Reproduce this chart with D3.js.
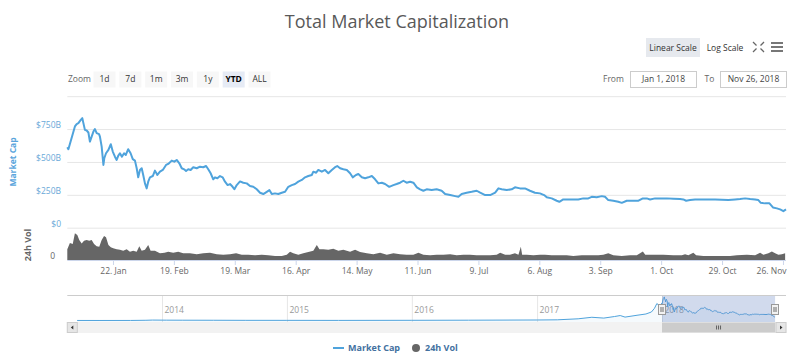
<!DOCTYPE html>
<html><head><meta charset="utf-8">
<script src="https://cdn.jsdelivr.net/npm/d3@7"></script>
<style>html,body{margin:0;padding:0;background:#fff;} svg{display:block;font-family:"Open Sans",sans-serif;}</style>
</head><body><svg id="chart" width="794" height="357"></svg>
<script>
// ---- data (market cap in billions USD, day offset from Jan 1, 2018) ----
const capDays = [0,0.5,3.5,4.3,5.1,6.2,6.9,7.4,8.1,8.9,9.7,10.4,11.2,12.0,12.7,13.5,14.6,15.0,15.8,16.6,17.0,17.8,18.9,20.0,20.9,21.9,22.7,23.4,24.2,25.1,26.1,26.9,28.0,29.1,30.1,31.1,31.9,32.6,33.4,34.2,34.9,35.7,36.5,37.2,38.0,39.3,40.3,41.4,42.6,43.9,45.4,46.4,48.0,49.2,50.3,51.5,52.6,53.7,54.6,55.6,56.7,57.9,59.5,61.0,62.5,63.8,64.8,65.9,67.1,67.9,69.0,70.2,71.4,72.5,73.7,74.8,76.0,76.8,77.9,79.4,80.9,82.5,84.0,85.5,87.1,88.6,90.1,91.7,92.9,94.0,95.5,97.0,98.6,100.1,101.6,103.2,104.7,106.2,107.8,109.3,110.8,112.4,113.1,114.4,115.4,117.0,118.5,120.0,121.6,123.1,124.1,125.4,126.9,128.5,130.0,131.2,132.7,133.8,135.4,136.9,138.4,140.0,141.5,143.0,144.6,146.1,148.0,149.9,151.4,153.0,154.5,156.0,157.6,159.1,160.7,162.2,163.7,165.2,167.5,169.8,172.1,173.7,176.0,178.3,179.8,181.3,183.6,185.9,188.2,189.8,192.1,194.4,196.7,198.2,199.7,202.0,204.3,205.8,208.1,210.4,212.7,215.0,217.3,219.2,220.4,222.7,225.0,226.2,228.0,230.3,232.7,234.9,237.2,239.5,241.1,243.4,245.7,247.2,248.7,251.0,253.3,254.9,257.2,260.2,262.6,264.6,266.4,267.9,270.2,272.5,275.6,278.6,281.7,283.2,284.5,286.3,288.6,291.7,294.7,297.8,300.9,303.9,307.0,309.3,311.6,313.9,316.2,317.7,318.8,320.8,322.8,324.4,326.2,327.7,329.2,330.4];
const capValues = [612,597,770,788,795,820,833,795,744,739,724,655,693,731,750,719,711,693,617,477,528,566,592,635,579,540,515,546,566,540,566,553,597,566,521,510,452,383,439,452,401,337,299,350,383,393,434,401,426,439,477,485,510,502,515,490,452,444,431,444,439,460,452,464,460,469,444,414,368,383,376,393,383,350,324,332,311,292,324,352,342,337,317,311,292,266,256,273,286,256,261,256,266,273,311,324,332,350,363,383,393,401,426,418,439,426,439,414,439,460,469,452,444,439,414,383,401,408,383,376,383,393,368,337,342,332,311,324,332,342,357,342,350,342,307,292,281,292,286,292,281,256,248,240,235,256,266,273,281,266,248,248,266,299,292,286,292,307,299,299,281,266,261,248,231,223,205,197,215,215,215,215,223,223,235,231,240,235,210,205,197,189,205,205,205,223,223,215,223,223,223,220,218,215,205,210,215,215,215,215,212,210,215,218,223,218,215,210,189,185,185,154,147,139,126,139];
// 24h volume in billions USD
const volDays = [0,1.2,2.5,3.5,4.6,5.5,6.6,7.7,8.9,10.1,11.2,12.3,13.5,14.7,15.8,16.9,17.8,18.9,20.0,21.1,22.7,24.2,25.7,27.3,28.8,30.3,31.9,33.1,34.2,35.7,37.2,38.3,40.3,42.6,44.7,46.4,48.7,51.0,53.3,56.4,59.5,62.5,65.6,68.7,71.7,74.8,77.6,80.2,83.2,86.3,89.4,92.4,95.5,98.6,100.9,102.4,103.9,106.2,108.5,110.8,113.1,114.7,115.9,117.7,120.0,122.3,124.6,126.9,130.0,132.3,134.6,137.7,140.7,143.8,146.9,149.9,153.0,156.0,159.1,161.4,163.7,166.8,169.8,172.9,176.0,179.0,182.1,185.1,188.2,191.3,194.4,197.4,199.0,201.3,203.5,205.8,207.4,208.5,209.1,211.2,214.3,217.3,219.6,222.7,226.5,229.6,232.6,236.5,240.3,244.1,246.4,248.7,251.0,254.9,258.7,261.8,263.3,264.6,265.7,269.4,274.0,278.6,282.5,284.0,285.5,287.8,289.1,292.4,297.0,300.9,304.7,307.8,312.4,316.2,318.5,320.0,322.3,323.9,325.4,326.9,328.5,330.0];
const volValues = [20,32,30,50,47,37.5,31,36,37.5,36,37.5,30,26,25,37.5,45,42.5,28,24,22,20,19,17.5,20,15.6,17.5,15.6,26,17.5,19,28,17.5,17.5,12.5,13.5,15.6,13.5,15.6,12.5,12.5,11,12.5,13.5,11,10,11,12.5,10,10,9,10,9,7.5,7.5,10,15.6,12.5,10,12.5,15,17.5,28,20,20,19,21,17.5,19,15.6,19,15,12.5,11,13.5,10,12.5,11,10,10,13.5,10,9,10,10,11,9,10,10,9,9,9,10,13.5,10,10,12.5,10,25,10,10,9,10,10,9,9,9,7.5,9,9,9,10,12.5,9,7.5,9,9,12.5,16,10,10,10,9,9,11,9,13.5,9,7.5,7.5,7.5,7.5,9,10,9,13.5,10,12.5,16,12.5,10,11,12.5];
// navigator history before 2018 (billions USD)
const histDates = ["2013-04-28","2013-07-01","2013-10-01","2013-11-15","2013-12-04","2014-01-15","2014-03-01","2014-06-01","2014-09-01","2015-01-01","2015-06-01","2016-01-01","2016-06-15","2017-01-01","2017-03-01","2017-05-01","2017-06-10","2017-07-15","2017-08-15","2017-09-01","2017-09-15","2017-10-20","2017-11-15","2017-12-01","2017-12-10","2017-12-17","2017-12-24","2018-01-01"];
const histValues = [1.6,1.1,1.9,8,15,12,10,8.5,6,5.5,3.5,7,11,18,24,60,114,85,140,175,120,185,230,300,430,600,520,612];
const capTicks = [0,250,500,750,1000];
const capTickLabels = ["$0","$250B","$500B","$750B",""];
const dateTicks = ["2018-01-22","2018-02-19","2018-03-19","2018-04-16","2018-05-14","2018-06-11","2018-07-09","2018-08-06","2018-09-03","2018-10-01","2018-10-29","2018-11-26"];
const navYears = ["2014","2015","2016","2017","2018"];
const zoomButtons = ["1d","7d","1m","3m","1y","YTD","ALL"];
const selectedZoom = "YTD";
const fromLabel = "Jan 1, 2018", toLabel = "Nov 26, 2018";

// ---- setup ----
const svg = d3.select("#chart");
const BLUE = "#4fa3dc";
const start = Date.UTC(2018,0,1);
const dayToDate = d => new Date(start + d*864e5);
const parse = d3.utcParse("%Y-%m-%d");
const L = 67.3, R = 786;
const x = d3.scaleUtc().domain([dayToDate(0), dayToDate(330.4)]).range([L, R]);
const capY = d3.scaleLinear().domain([0,1000]).range([227.7, 96.2]);
const volY = d3.scaleLinear().domain([0,60]).range([260, 228]);

// title
svg.append("text").attr("x",397).attr("y",28).attr("text-anchor","middle")
  .attr("font-size",18).attr("fill","#595959").text("Total Market Capitalization");

// scale buttons (top-right)
svg.append("rect").attr("x",646).attr("y",38).attr("width",54).attr("height",19).attr("fill","#e6e9ee");
svg.append("text").attr("x",673).attr("y",50.5).attr("text-anchor","middle").attr("font-size",8.5).attr("fill","#333").text("Linear Scale");
svg.append("text").attr("x",725).attr("y",50.5).attr("text-anchor","middle").attr("font-size",8.5).attr("fill","#333").text("Log Scale");
// expand icon
const ic = svg.append("g").attr("stroke","#666").attr("stroke-width",1.3).attr("fill","none");
[[753,42,756.5,45.5],[764,42,760.5,45.5],[753,52,756.5,48.5],[764,52,760.5,48.5]].forEach(a=>{
  ic.append("line").attr("x1",a[0]).attr("y1",a[1]).attr("x2",a[2]).attr("y2",a[3]);
});
// menu icon
[43,47,51].forEach(yy=>svg.append("line").attr("x1",771).attr("x2",783).attr("y1",yy).attr("y2",yy).attr("stroke","#555").attr("stroke-width",1.6));

// zoom buttons
svg.append("text").attr("x",68).attr("y",82).attr("font-size",8.5).attr("fill","#666").text("Zoom");
const bx = d3.scalePoint().domain(zoomButtons).range([104.5,259.5]);
const zb = svg.append("g").selectAll("g").data(zoomButtons).join("g");
zb.append("rect").attr("x",d=>bx(d)-11).attr("y",71.5).attr("width",22).attr("height",16)
  .attr("fill",d=>d===selectedZoom?"#e6ebf5":"#f7f7f7");
zb.append("text").attr("x",d=>bx(d)).attr("y",82.3).attr("text-anchor","middle").attr("font-size",8.5)
  .attr("font-weight",d=>d===selectedZoom?"bold":"normal").attr("fill",d=>d===selectedZoom?"#000":"#333").text(d=>d);

// date range inputs
svg.append("text").attr("x",603).attr("y",82).attr("font-size",8.5).attr("fill","#666").text("From");
svg.append("rect").attr("x",630.5).attr("y",71.5).attr("width",66).attr("height",16).attr("fill","#fff").attr("stroke","#ccc");
svg.append("text").attr("x",663.5).attr("y",82.3).attr("text-anchor","middle").attr("font-size",8.5).attr("fill","#444").text(fromLabel);
svg.append("text").attr("x",704.5).attr("y",82).attr("font-size",8.5).attr("fill","#666").text("To");
svg.append("rect").attr("x",720.5).attr("y",71.5).attr("width",66).attr("height",16).attr("fill","#fff").attr("stroke","#ccc");
svg.append("text").attr("x",753.5).attr("y",82.3).attr("text-anchor","middle").attr("font-size",8.5).attr("fill","#444").text(toLabel);

// cap gridlines + labels
const capAxis = svg.append("g").attr("transform",`translate(${L},0)`)
  .call(d3.axisRight(capY).tickValues(capTicks).tickSize(R-L).tickFormat(""));
capAxis.select(".domain").remove();
capAxis.selectAll(".tick line").attr("stroke","#e6e6e6");
const capLab = svg.append("g").attr("transform","translate(61,0)")
  .call(d3.axisLeft(capY).tickValues(capTicks).tickSize(0).tickPadding(0).tickFormat((d,i)=>capTickLabels[i]));
capLab.select(".domain").remove();
capLab.selectAll(".tick text").attr("dy","-0.15em").attr("font-size",8.5).attr("fill","#6aa9d8").attr("font-family","Open Sans");
svg.append("text").attr("transform","translate(16,162) rotate(-90)").attr("text-anchor","middle")
  .attr("font-size",8.5).attr("font-weight","bold").attr("fill","#5aa5dc").text("Market Cap");

// volume
const vArea = d3.area().x((d,i)=>x(dayToDate(volDays[i]))).y0(volY(0)).y1((d)=>volY(d));
svg.append("path").datum(volValues).attr("d",vArea).attr("fill","#666666");
svg.append("text").attr("transform","translate(31,245) rotate(-90)").attr("text-anchor","middle")
  .attr("font-size",9).attr("font-weight","bold").attr("fill","#666").text("24h Vol");
const volLab = svg.append("g").attr("transform","translate(55,0)")
  .call(d3.axisLeft(volY).tickValues([0]).tickSize(0).tickPadding(0).tickFormat(d3.format("d")));
volLab.select(".domain").remove();
volLab.selectAll(".tick text").attr("dy","-0.2em").attr("font-size",8.5).attr("fill","#666").attr("font-family","Open Sans");

// market cap line
const cLine = d3.line().x((d,i)=>x(dayToDate(capDays[i]))).y(d=>capY(d));
svg.append("path").datum(capValues).attr("d",cLine).attr("fill","none").attr("stroke",BLUE).attr("stroke-width",2).attr("stroke-linejoin","round");

// x axis
const xAxis = svg.append("g").attr("transform","translate(0,260)")
  .call(d3.axisBottom(x).tickValues(dateTicks.map(parse)).tickSize(5).tickPadding(3).tickFormat(d3.utcFormat("%-d. %b")));
xAxis.select(".domain").attr("stroke","#ccd6eb").attr("d",`M${L},0.5H${R}`);
xAxis.selectAll(".tick line").attr("stroke","#ccd6eb");
xAxis.selectAll(".tick text").attr("font-size",8.5).attr("fill","#666").attr("font-family","Open Sans");
// keep the last label inside the plot edge
xAxis.selectAll(".tick text").filter((d,i,n)=>i===n.length-1)
  .attr("text-anchor","end").attr("x",d=>R-x(d));

// ---- navigator ----
const navX = d3.scaleUtc().domain([parse("2014-01-01"), parse("2018-01-01")]).range([162,662]);
const navY = d3.scaleLinear().domain([0,830]).range([320.5,297]);
const navTop = 295, navBot = 322;
const nav = svg.append("g");
const navGrid = nav.append("g").attr("transform",`translate(0,${navTop})`)
  .call(d3.axisBottom(navX).tickValues(navYears.map(y=>parse(y+"-01-01"))).tickSize(navBot-navTop).tickFormat(d3.utcFormat("%Y")));
navGrid.select(".domain").remove();
navGrid.selectAll(".tick line").attr("stroke","#e6e6e6");
navGrid.selectAll(".tick text").attr("text-anchor","start").attr("x",2).attr("y",17.5).attr("dy",0)
  .attr("font-size",8.5).attr("fill","#999").attr("font-family","Open Sans");
const navData = histDates.map((d,i)=>[parse(d),histValues[i]]).concat(capDays.map((d,i)=>[dayToDate(d),capValues[i]]));
const nArea = d3.area().x(d=>navX(d[0])).y0(navBot).y1(d=>navY(d[1]));
const nLine = d3.line().x(d=>navX(d[0])).y(d=>navY(d[1]));
nav.append("path").datum(navData).attr("d",nArea).attr("fill",BLUE).attr("fill-opacity",0.06);
nav.append("path").datum(navData).attr("d",nLine).attr("fill","none").attr("stroke",BLUE).attr("stroke-width",1);
const mL = navX(dayToDate(0)), mR = navX(dayToDate(330.4));
nav.append("rect").attr("x",mL).attr("y",navTop).attr("width",mR-mL).attr("height",navBot-navTop).attr("fill","rgba(102,133,194,0.3)");
nav.append("path").attr("d",`M${L},${navTop+0.5}H${R}`).attr("stroke","#cccccc").attr("fill","none");
// handles
[mL,mR].forEach(hx=>{
  const g = nav.append("g").attr("transform",`translate(${Math.round(hx)},0)`);
  g.append("rect").attr("x",-3.5).attr("y",304.5).attr("width",7).attr("height",10).attr("fill","#f2f2f2").attr("stroke","#999");
  g.append("path").attr("d","M-1,307V312M1,307V312").attr("stroke","#333").attr("stroke-width",0.7);
});
// scrollbar
const sb = svg.append("g");
sb.append("rect").attr("x",L).attr("y",322.5).attr("width",R-L).attr("height",10).attr("fill","#f2f2f2").attr("stroke","#f2f2f2");
sb.append("rect").attr("x",mL).attr("y",322.5).attr("width",mR-mL).attr("height",10).attr("fill","#cccccc");
[mL+(mR-mL)/2-2,mL+(mR-mL)/2,mL+(mR-mL)/2+2].forEach(gx=>sb.append("line").attr("x1",gx).attr("x2",gx).attr("y1",325.5).attr("y2",329.5).attr("stroke","#333").attr("stroke-width",0.7));
sb.append("rect").attr("x",L).attr("y",322.5).attr("width",10).attr("height",10).attr("fill","#e6e6e6").attr("stroke","#ccc");
sb.append("path").attr("d",`M${L+6},325.5L${L+3.5},327.5L${L+6},329.5Z`).attr("fill","#333");
sb.append("rect").attr("x",R-10).attr("y",322.5).attr("width",10).attr("height",10).attr("fill","#e6e6e6").attr("stroke","#ccc");
sb.append("path").attr("d",`M${R-6},325.5L${R-3.5},327.5L${R-6},329.5Z`).attr("fill","#333");

// legend
const lg = svg.append("g");
lg.append("line").attr("x1",333).attr("x2",344).attr("y1",348).attr("y2",348).attr("stroke",BLUE).attr("stroke-width",2);
lg.append("text").attr("x",348).attr("y",351).attr("font-size",9).attr("font-weight","bold").attr("fill","#43719f").text("Market Cap");
lg.append("circle").attr("cx",416).attr("cy",348).attr("r",4).attr("fill","#666");
lg.append("text").attr("x",425).attr("y",351).attr("font-size",9).attr("font-weight","bold").attr("fill","#43719f").text("24h Vol");
</script></body></html>
